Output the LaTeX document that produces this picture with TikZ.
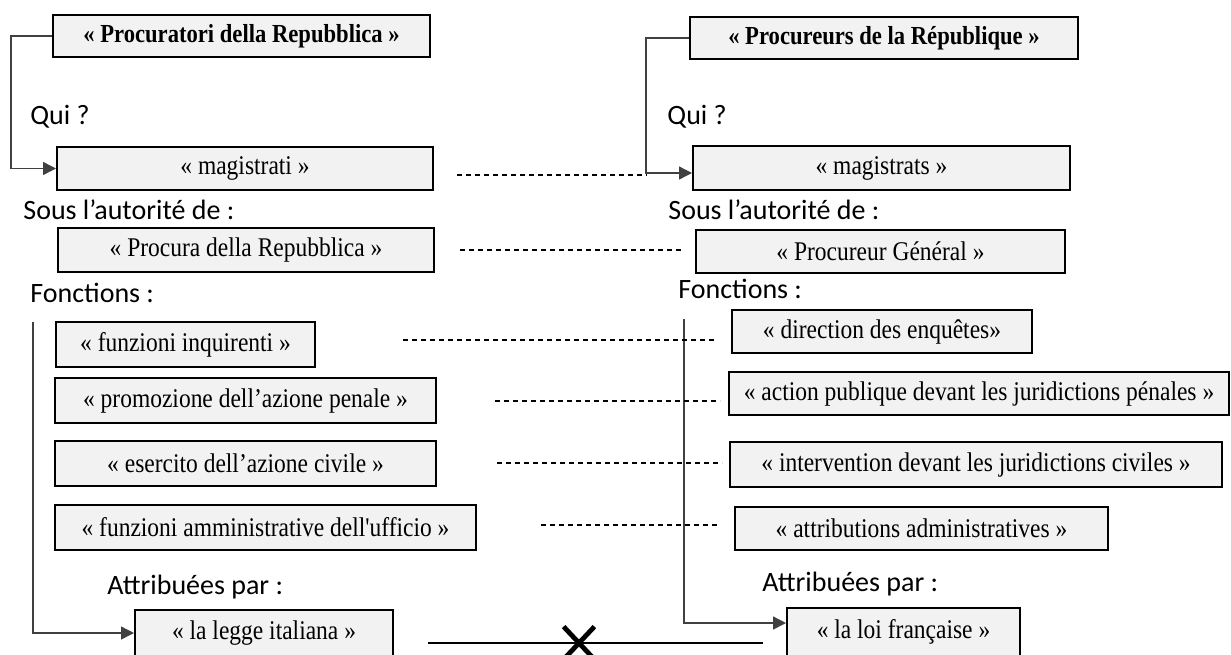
\documentclass[tikz,border=0pt]{standalone}
\usepackage{fontspec}
\setmainfont{Liberation Serif}[Ligatures=TeXOff]
\newfontfamily\boxfont{Liberation Serif}[Ligatures=TeXOff, FakeStretch=0.87]
\newfontfamily\labelfont{Carlito}
\usetikzlibrary{arrows.meta,shapes.misc}
\tikzset{
  termbox/.style={draw, line width=1pt, fill=gray!10, inner sep=0pt,
    font=\boxfont\fontsize{13.5}{15}\selectfont},
  titlebox/.style={termbox, font=\boxfont\fontsize{13}{15}\selectfont\bfseries},
  heading/.style={inner sep=0pt, anchor=base west,
    font=\labelfont\fontsize{14}{16}\selectfont},
  link/.style={draw=black!75, line width=0.7pt,
    -{Triangle[length=6.5pt,width=6.5pt]}},
  pairing/.style={dashed, dash pattern=on 2.5pt off 2pt, line width=0.6pt},
}
% box from its two corners, in pixels of the picture
\newcommand{\termbox}[7][termbox]{
  \pgfmathsetmacro\boxw{(#5-#3)/2}
  \pgfmathsetmacro\boxh{(#6-#4)/2}
  \node [#1, minimum width=\boxw pt, minimum height=\boxh pt]
    (#2) at ({(#3+#5)/2},{(#4+#6)/2}) {#7};
}
\newcommand{\heading}[3]{
  \node [heading] (#1) at (#2) {#3};
}
\newcommand{\pairing}[4]{
  \coordinate (#1a) at (#2,#4);
  \coordinate (#1b) at (#3,#4);
  \draw [pairing] (#1a) -- (#1b);
}

\begin{document}
\begin{tikzpicture}[x=0.5pt, y=-0.5pt]
\useasboundingbox (0,0) rectangle (1231,654);
% italian side
\termbox[titlebox]{it1}{53}{15}{430}{57}{« Procuratori della Repubblica »}
\heading{itqui}{30,124}{Qui ?}
\termbox{it2}{57}{147}{433}{190}{« magistrati »}
\heading{itsous}{23,219}{Sous l’autorité de :}
\termbox{it3}{58}{228}{434}{272}{« Procura della Repubblica  »}
\heading{itfonc}{30,302}{Fonctions :}
\termbox{it4}{56}{322}{315}{367}{« funzioni inquirenti  »}
\termbox{it5}{55}{378}{436}{423}{« promozione dell’azione penale  »}
\termbox{it6}{55}{441}{436}{486}{« esercito dell’azione civile »}
\termbox{it7}{55}{505}{476}{550}{« funzioni amministrative dell'ufficio »}
\heading{itattr}{107,594}{Attribuées par :}
\termbox{it8}{135}{610}{393}{656}{« la legge italiana »}
% french side
\termbox[titlebox]{fr1}{690}{17}{1078}{59}{« Procureurs de la République »}
\heading{frqui}{667,124}{Qui ?}
\termbox{fr2}{693}{146}{1070}{190}{« magistrats »}
\heading{frsous}{668,219}{Sous l’autorité de :}
\termbox{fr3}{696}{230}{1065}{273}{« Procureur Général »}
\heading{frfonc}{678,298}{Fonctions :}
\termbox{fr4}{732}{310}{1032}{353}{« direction des enquêtes»}
\termbox{fr5}{729}{372}{1229}{415}{« action publique devant les juridictions pénales »}
\termbox{fr6}{730}{442}{1222}{487}{« intervention devant les juridictions civiles »}
\termbox{fr7}{735}{507}{1108}{550}{« attributions administratives »}
\heading{frattr}{762,591}{Attribuées par :}
\termbox{fr8}{787}{608}{1020}{656}{« la loi française »}
% who / under / by
\draw [link] (it1.west) -- ++(-41,0) |- (it2.west);
\draw [link] (fr1.west) -- ++(-43,0) |- ([yshift=-2.5pt]fr2.west);
\coordinate (itdown) at (33,322);
\draw [link] (itdown) |- (it8.west);
\coordinate (frdown) at (684,319);
\draw [link] (frdown) |- ([yshift=4.5pt]fr8.west);
% equivalences
\pairing{p2}{457}{647}{175}
\pairing{p3}{460}{683}{250}
\pairing{p4}{403}{714}{340}
\pairing{p5}{495}{720}{401}
\pairing{p6}{497}{722}{463}
\pairing{p7}{541}{720}{525}
\coordinate (lawa) at (428,643);
\coordinate (lawb) at (763,643);
\draw [line width=0.6pt] (lawa) -- (lawb);
\node [cross out, draw, line width=2.4pt, minimum width=13pt, minimum height=14pt, inner sep=0pt] (nolink) at (579,643) {};
\end{tikzpicture}
\end{document}
